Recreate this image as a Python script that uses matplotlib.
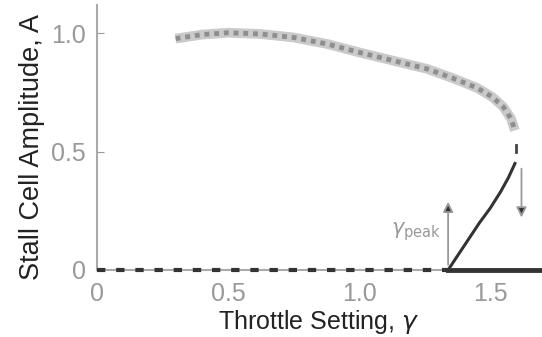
import numpy as np
import matplotlib.pyplot as plt

plt.rcParams['font.family'] = ['Liberation Sans', 'DejaVu Sans']

# upper (stall) branch
upper_x = [0.30, 0.40, 0.50, 0.62, 0.75, 0.88, 1.00, 1.13, 1.26, 1.36, 1.45, 1.51, 1.55, 1.58, 1.595]
upper_y = [0.978, 0.995, 1.003, 0.998, 0.983, 0.955, 0.92, 0.885, 0.85, 0.81, 0.77, 0.73, 0.69, 0.64, 0.59]

# lower (unstable) branch
lower_x = [1.34, 1.40, 1.46, 1.50, 1.54, 1.57, 1.595]
lower_y = [0.0, 0.10, 0.20, 0.26, 0.33, 0.39, 0.45]

# zero-amplitude branch
gamma_peak = 1.34
zero_stable_x = [0.0, gamma_peak]
zero_unstable_x = [gamma_peak, 1.69]

fig = plt.figure(figsize=(5.42, 3.37), dpi=100)
ax = fig.add_axes([0.179, 0.199, 0.817, 0.786])

ax.plot(upper_x, upper_y, color='#cacaca', lw=7, solid_capstyle='butt')
ax.plot(upper_x, upper_y, color='#8e8e8e', lw=3.5, ls=(0, (1, 1)))
ax.plot([1.598, 1.598], [0.50, 0.53], color='#444444', lw=2)

ax.plot(lower_x, lower_y, color='#333333', lw=2.2)

ax.plot(zero_stable_x, [0, 0], color='#333333', lw=3, ls=(0, (2, 2.6)), clip_on=False, zorder=5)
ax.plot(zero_unstable_x, [0, 0], color='#333333', lw=3.5, clip_on=False, zorder=5)

ax.annotate('', xy=(gamma_peak, 0.30), xytext=(gamma_peak, 0.01),
            arrowprops=dict(arrowstyle='-|>', color='#999999', lw=1.3,
                            mutation_scale=15, fc='#333333'))
ax.annotate('', xy=(1.62, 0.21), xytext=(1.62, 0.44),
            arrowprops=dict(arrowstyle='-|>', color='#999999', lw=1.3,
                            mutation_scale=15, fc='#333333'))
ax.text(1.315, 0.16, r'$\gamma_{\rm peak}$', color='#999999', fontsize=15,
        ha='right', va='center')

ax.set_xlim(0, 1.69)
ax.set_ylim(0, 1.12)
ax.set_xticks([0, 0.5, 1.0, 1.5])
ax.set_xticklabels(['0', '0.5', '1.0', '1.5'])
ax.set_yticks([0, 0.5, 1.0])
ax.set_yticklabels(['0', '0.5', '1.0'])
ax.tick_params(axis='x', length=0, pad=9, labelsize=18, labelcolor='#999999')
ax.tick_params(axis='y', direction='in', length=5, color='#999999', pad=8,
               labelsize=18, labelcolor='#999999')
for s in ['top', 'right']:
    ax.spines[s].set_visible(False)
for s in ['left', 'bottom']:
    ax.spines[s].set_color('#aaaaaa')
    ax.spines[s].set_linewidth(1.5)

ax.set_xlabel(r'Throttle Setting, $\gamma$', fontsize=18, color='#222222', labelpad=1)
ax.set_ylabel('Stall Cell Amplitude, A', fontsize=19.5, color='#222222')
ax.yaxis.set_label_coords(-0.118, 0.465)

fig.savefig('out.png', dpi=100)
